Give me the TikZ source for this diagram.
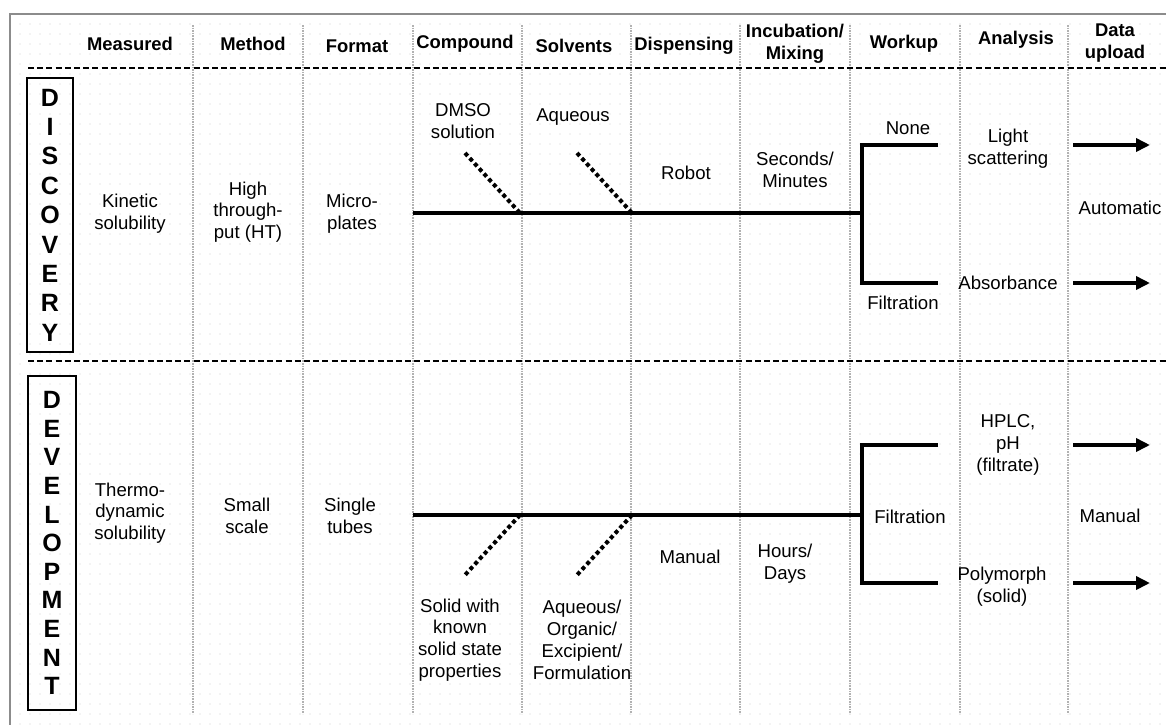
\documentclass[tikz,border=0pt]{standalone}
\usepackage{fontspec}
\setmainfont{Liberation Sans}
\usetikzlibrary{arrows.meta, patterns.meta}

\tikzset{
  txt/.style={align=center, font=\fontsize{9.3}{10.9}\selectfont, inner sep=1pt},
  hdr/.style={align=center, font=\fontsize{9.2}{10.8}\selectfont\bfseries, inner sep=1pt},
  stage/.style={draw, line width=0.9pt, align=center, inner sep=1pt},
  flow/.style={line width=2pt},
  feed/.style={line width=2pt, dash pattern=on 2pt off 1.5pt},
  outarrow/.style={line width=1.8pt, -{Triangle[length=7pt, width=6.5pt]}},
  colsep/.style={black!30, line width=0.6pt, dash pattern=on 0.8pt off 0.5pt},
  band/.style={line width=1.4pt, dash pattern=on 3pt off 1.6pt}
}

\begin{document}
\begin{tikzpicture}[x=0.5pt, y=-0.5pt]
	\useasboundingbox (0,0) rectangle (1166,724);
	\fill[white] (0,0) rectangle (1166,724);
	\fill[pattern={Dots[distance=5pt, radius=0.35pt]}, pattern color=black!20] (10,14) rectangle (1166,724);
	\draw[black!45, line width=0.8pt] (1170,14) -- (10,14) -- (10,730);
	
	% column separators and bands
	\foreach \x in {193,303,413,522,631,740,850,960,1068}
		\draw[colsep] (\x,25) -- (\x,714);
	\draw[band] (28,68) -- (1166,68);
	\draw[band] (28,361) -- (1166,361);
	
	% headers
	\node[hdr] (hmeas) at (130,44) {Measured};
	\node[hdr] (hmeth) at (253,44) {Method};
	\node[hdr] (hform) at (357,46) {Format};
	\node[hdr] (hcomp) at (465,44) {Compound};
	\node[hdr] (hsolv) at (574,46) {Solvents};
	\node[hdr] (hdisp) at (684,46) {Dispensing};
	\node[hdr] (hincu) at (795,44) {Incubation/\\Mixing};
	\node[hdr] (hwork) at (904,44) {Workup};
	\node[hdr] (hanal) at (1016,40) {Analysis};
	\node[hdr] (hdata) at (1115,43) {Data\\upload};
	
	% stages
	\node[stage, minimum width=23pt, minimum height=137pt, font=\fontsize{12.5}{14.7}\selectfont\bfseries] (disc) at (50,215) {D\\I\\S\\C\\O\\V\\E\\R\\Y};
	\node[stage, minimum width=24pt, minimum height=167pt, font=\fontsize{12.5}{14.3}\selectfont\bfseries] (devel) at (52,543) {D\\E\\V\\E\\L\\O\\P\\M\\E\\N\\T};
	
	% discovery
	\node[txt] (kin) at (130,214) {Kinetic\\solubility};
	\node[txt] (htp) at (248,212) {High\\through-\\put (HT)};
	\node[txt] (mpl) at (352,214) {Micro-\\plates};
	\node[txt] (dmso) at (463,121) {DMSO\\solution};
	\node[txt] (aq) at (573,117) {Aqueous};
	\node[txt] (robot) at (686,173) {Robot};
	\node[txt] (secs) at (795,170) {Seconds/\\Minutes};
	\node[txt] (none) at (908,128) {None};
	\node[txt] (dfilt) at (903,303) {Filtration};
	\node[txt] (light) at (1008,149) {Light\\scattering};
	\node[txt] (absb) at (1008,283) {Absorbance};
	\node[txt] (auto) at (1120,208) {Automatic};
	
	\coordinate (d0) at (413,213);
	\coordinate (dj) at (862,213);
	\coordinate (dt) at (862,145);
	\coordinate (db) at (862,283);
	\coordinate (dte) at (938,145);
	\coordinate (dbe) at (938,283);
	\draw[flow] (d0) -- (dj);
	\draw[flow] (dte) -- (dt) -- (db) -- (dbe);
	\coordinate (dmsoend) at (465,153);
	\coordinate (aqend) at (577,153);
	\draw[feed] (dmsoend) -- (520,213);
	\draw[feed] (aqend) -- (632,213);
	\coordinate (da1) at (1073,145);
	\coordinate (da2) at (1150,145);
	\coordinate (da3) at (1073,283);
	\coordinate (da4) at (1150,283);
	\draw[outarrow] (da1) -- (da2);
	\draw[outarrow] (da3) -- (da4);
	
	% development
	\node[txt] (thermo) at (130,513) {Thermo-\\dynamic\\solubility};
	\node[txt] (small) at (247,516) {Small\\scale};
	\node[txt] (tubes) at (350,516) {Single\\tubes};
	\node[txt] (solid) at (460,640) {Solid with\\known\\solid state\\properties};
	\node[txt] (aqorg) at (582,640) {Aqueous/\\Organic/\\Excipient/\\Formulation};
	\node[txt] (manual) at (690,557) {Manual};
	\node[txt] (hours) at (785,564) {Hours/\\Days};
	\node[txt] (efilt) at (910,517) {Filtration};
	\node[txt] (hplc) at (1008,445) {HPLC,\\pH\\(filtrate)};
	\node[txt] (poly) at (1002,587) {Polymorph\\(solid)};
	\node[txt] (man2) at (1110,516) {Manual};
	
	\coordinate (e0) at (413,515);
	\coordinate (ej) at (862,515);
	\coordinate (et) at (862,445);
	\coordinate (eb) at (862,583);
	\coordinate (ete) at (938,445);
	\coordinate (ebe) at (938,583);
	\draw[flow] (e0) -- (ej);
	\draw[flow] (ete) -- (et) -- (eb) -- (ebe);
	\coordinate (solidend) at (465,575);
	\coordinate (aqorgend) at (577,575);
	\draw[feed] (520,515) -- (solidend);
	\draw[feed] (632,515) -- (aqorgend);
	\coordinate (ea1) at (1073,445);
	\coordinate (ea2) at (1150,445);
	\coordinate (ea3) at (1073,583);
	\coordinate (ea4) at (1150,583);
	\draw[outarrow] (ea1) -- (ea2);
	\draw[outarrow] (ea3) -- (ea4);
\end{tikzpicture}
\end{document}
